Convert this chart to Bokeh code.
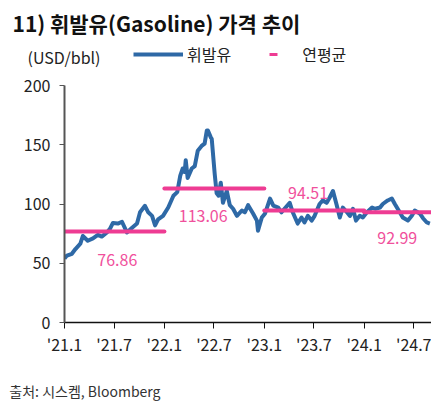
import pandas as pd
from bokeh.plotting import figure
from bokeh.layouts import column
from bokeh.models import (ColumnDataSource, FixedTicker, Range1d, Legend, LegendItem, Title)
from bokeh.core.properties import value
from bokeh.embed import file_html
from bokeh.resources import INLINE

# ---------------- data ----------------
dates = [
    "2021-01-01", "2021-01-10", "2021-01-28", "2021-02-10", "2021-02-28", "2021-03-09",
    "2021-03-27", "2021-04-15", "2021-05-03", "2021-05-17", "2021-06-05", "2021-06-16",
    "2021-06-27", "2021-07-15", "2021-07-30", "2021-08-17", "2021-09-05", "2021-09-23",
    "2021-10-04", "2021-10-22", "2021-11-03", "2021-11-17", "2021-11-28", "2021-12-09",
    "2021-12-27", "2022-01-15", "2022-02-03", "2022-02-17", "2022-02-28", "2022-03-09",
    "2022-03-16", "2022-03-20", "2022-03-27", "2022-04-11", "2022-04-22", "2022-05-03",
    "2022-05-17", "2022-05-28", "2022-06-05", "2022-06-09", "2022-06-20", "2022-06-23",
    "2022-07-04", "2022-07-11", "2022-07-18", "2022-07-26", "2022-08-03", "2022-08-17",
    "2022-08-28", "2022-09-09", "2022-09-23", "2022-10-11", "2022-10-22", "2022-11-03",
    "2022-11-21", "2022-12-05", "2022-12-09", "2022-12-23", "2023-01-04", "2023-01-22",
    "2023-02-03", "2023-02-21", "2023-03-05", "2023-03-16", "2023-04-04", "2023-04-15",
    "2023-05-03", "2023-05-17", "2023-05-28", "2023-06-09", "2023-06-23", "2023-07-04",
    "2023-07-22", "2023-08-03", "2023-08-17", "2023-08-28", "2023-09-09", "2023-09-23",
    "2023-10-04", "2023-10-15", "2023-10-30", "2023-11-10", "2023-11-21", "2023-12-02",
    "2023-12-16", "2023-12-27", "2024-01-11", "2024-01-30", "2024-02-10", "2024-02-28",
    "2024-03-09", "2024-03-27", "2024-04-11", "2024-04-22", "2024-05-10", "2024-05-21",
    "2024-06-09", "2024-06-23", "2024-07-04", "2024-07-22", "2024-08-03", "2024-08-17",
    "2024-08-28",
]
gasoline = [
    54, 56.5, 58, 62, 66.5, 73,
    69, 71, 74, 72.5, 76, 79,
    84, 83.5, 85, 76, 80, 83.5,
    93, 98.5, 93, 90, 82, 87,
    90, 97, 107, 110, 124, 130,
    127, 137, 122, 130, 132, 145,
    149, 151, 162, 162, 156, 155,
    125, 109, 107, 118, 101, 111,
    99, 96, 90, 94.5, 93, 99,
    92, 86, 77.5, 88.6, 92, 104.6,
    98.7, 97, 93, 96, 101, 93,
    83.5, 88.6, 84.4, 90, 86, 90,
    100, 103, 101, 105.5, 111, 98.7,
    88.6, 97, 93, 90, 96, 86,
    90, 88.6, 93, 97, 96, 97,
    100, 103, 104.6, 100, 93, 88.6,
    86, 90, 94.5, 92, 88, 84.4,
    83.5,
]

avg_start = ["2021-01-01", "2022-01-01", "2023-01-01", "2024-01-01"]
avg_end = ["2022-01-01", "2023-01-01", "2024-01-01", "2025-01-01"]
avg_values = [76.86, 113.06, 94.51, 92.99]
avg_texts = ["76.86", "113.06", "94.51", "92.99"]

x_tick_dates = ["2021-01-01", "2021-07-01", "2022-01-01", "2022-07-01",
                "2023-01-01", "2023-07-01", "2024-01-01", "2024-07-01"]
x_tick_labels = ["'21.1", "'21.7", "'22.1", "'22.7", "'23.1", "'23.7", "'24.1", "'24.7"]
y_ticks = [0, 50, 100, 150, 200]

title_text = "11) 휘발유(Gasoline) 가격 추이"
unit_text = "(USD/bbl)"
series_name = "휘발유"
avg_name = "연평균"
source_text = "출처: 시스켐, Bloomberg"

# ---------------- style ----------------
W = 431
HEAD_H = 70                 # header figure: page y 0..70
FOOT_H = 31                 # footer figure: page y 370..401
MAIN_H = 401 - HEAD_H - FOOT_H
FL = 64                     # frame left (page px), shared by all figures
FONT = "Noto Sans CJK KR"
BLUE = "#2E69A6"
PINK = "#EE3C93"
PINK_TXT = "#F0509C"
NAN = float("nan")


def ms(d):
    return pd.Timestamp(d).value / 1e6


def clean(f):
    f.outline_line_color = None
    f.xgrid.visible = False
    f.ygrid.visible = False
    f.background_fill_color = "white"
    f.border_fill_color = "white"


def text_axis(f, y, text, size, standoff, color="#222222"):
    a = f.yaxis[0]
    a.ticker = FixedTicker(ticks=[y])
    a.major_label_overrides = {y: text}
    a.axis_line_color = None
    a.major_tick_line_color = None
    a.minor_tick_line_color = None
    a.major_tick_out = 0
    a.major_tick_in = 0
    a.major_label_standoff = standoff
    a.major_label_text_font = FONT
    a.major_label_text_font_size = size
    a.major_label_text_color = color


# ---------- header: title, unit, legend ----------
HEAD_TOP = 40               # header frame spans page y 40..70
head = figure(width=W, height=HEAD_H, output_backend="svg", toolbar_location=None,
              title=None, x_range=Range1d(0, 1), y_range=Range1d(0, HEAD_H - HEAD_TOP),
              x_axis_location=None, min_border_left=FL, min_border_right=0,
              min_border_top=HEAD_TOP, min_border_bottom=0)
clean(head)
head.add_layout(Title(text=title_text, align="left", offset=12 - FL,
                      text_font=FONT, text_font_size="21px", text_font_style="bold",
                      text_color="#111111"), "above")
text_axis(head, HEAD_H - 56, unit_text, "16px", -36)

leg_line = head.line(x=[NAN], y=[NAN], line_color=BLUE, line_width=4)
leg_dash = head.scatter(x=[NAN], y=[NAN], marker="dash", line_color=PINK, line_width=3)
legend = Legend(items=[LegendItem(label=series_name, renderers=[leg_line]),
                       LegendItem(label=avg_name, renderers=[leg_dash])],
                orientation="horizontal", location=(133 - FL, 4),
                glyph_width=50, glyph_height=20, label_standoff=4, spacing=17,
                padding=0, margin=0, border_line_color=None, background_fill_alpha=0,
                label_text_font=FONT, label_text_font_size="16px",
                label_text_color="#222222", label_height=20)
head.add_layout(legend, "center")

# ---------- main chart ----------
FT, FB = 85 - HEAD_H, 322 - HEAD_H      # frame top / bottom inside main figure
p = figure(width=W, height=MAIN_H, output_backend="svg", toolbar_location=None,
           x_axis_type="datetime", title=None,
           x_range=Range1d(ms("2021-01-01"), ms("2024-09-03")), y_range=Range1d(0, 200),
           min_border_left=FL, min_border_right=0, min_border_top=FT,
           min_border_bottom=MAIN_H - FB)
clean(p)

src = ColumnDataSource(dict(x=pd.to_datetime(dates), y=gasoline))
p.line("x", "y", source=src, line_color=BLUE, line_width=4, line_join="round")

avg_src = ColumnDataSource(dict(
    x0=pd.to_datetime(avg_start), x1=pd.to_datetime(avg_end), y=avg_values,
    xm=pd.to_datetime(["2021-07-02", "2022-07-02", "2023-07-02", "2024-07-02"]),
    t=avg_texts,
    dx=[3, -11, -6, -17], dy=[29, 27, -18, 26],
))
p.segment(x0="x0", y0="y", x1="x1", y1="y", source=avg_src,
          line_color=PINK, line_width=4, line_cap="round")
p.text(x="xm", y="y", text="t", source=avg_src, x_offset="dx", y_offset="dy",
       text_font=value(FONT), text_font_size="16px", text_color=PINK_TXT,
       text_align="center", text_baseline="middle")

xa = p.xaxis[0]
xa.ticker = FixedTicker(ticks=[ms(d) for d in x_tick_dates])
xa.major_label_overrides = {ms(d): l for d, l in zip(x_tick_dates, x_tick_labels)}
xa.axis_line_color = "#111111"
xa.axis_line_width = 1.5
xa.major_tick_line_color = "#111111"
xa.major_tick_out = 6
xa.major_tick_in = 0
xa.minor_tick_line_color = None
xa.major_label_standoff = 3
xa.major_label_text_font = FONT
xa.major_label_text_font_size = "16px"
xa.major_label_text_color = "#222222"

ya = p.yaxis[0]
ya.ticker = FixedTicker(ticks=y_ticks)
ya.axis_line_color = "#555555"
ya.axis_line_width = 2
ya.major_tick_line_color = "#555555"
ya.major_tick_out = 5
ya.major_tick_in = 0
ya.minor_tick_line_color = None
ya.major_label_standoff = 9
ya.major_label_text_font = FONT
ya.major_label_text_font_size = "16px"
ya.major_label_text_color = "#222222"

# ---------- footer: source ----------
foot = figure(width=W, height=FOOT_H, output_backend="svg", toolbar_location=None,
              title=None, x_range=Range1d(0, 1), y_range=Range1d(0, FOOT_H),
              x_axis_location=None, min_border_left=FL, min_border_right=0,
              min_border_top=0, min_border_bottom=0)
clean(foot)
text_axis(foot, 401 - 390, source_text, "14px", -96, "#333333")

layout = column(head, p, foot, spacing=0)
open("out.html", "w").write(file_html(layout, INLINE))
